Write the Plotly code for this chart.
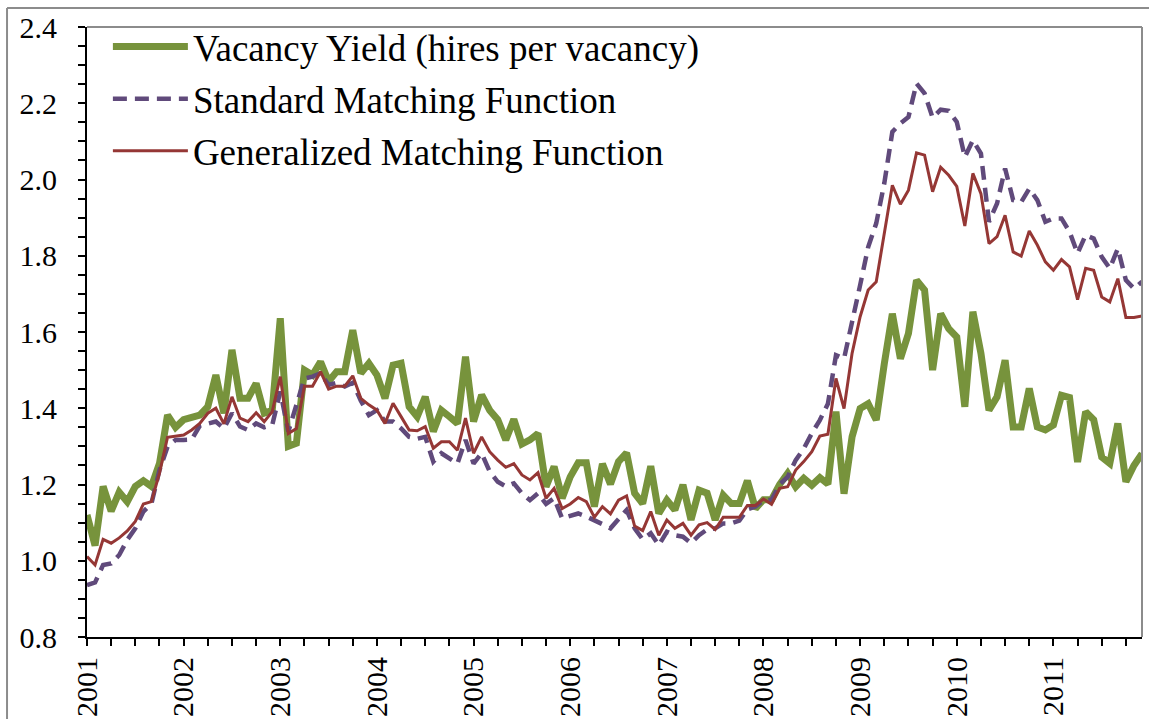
import plotly.graph_objects as go

years = ["2001", "2002", "2003", "2004", "2005", "2006", "2007", "2008", "2009", "2010", "2011"]

vacancy_yield = [
    1.12, 1.04, 1.195, 1.13, 1.18, 1.155, 1.195, 1.21, 1.195, 1.255, 1.382, 1.35,
    1.37, 1.374, 1.382, 1.404, 1.487, 1.387, 1.553, 1.426, 1.426, 1.465, 1.387, 1.395,
    1.636, 1.30, 1.308, 1.50, 1.487, 1.522, 1.47, 1.496, 1.496, 1.605, 1.492, 1.518,
    1.487, 1.426, 1.513, 1.518, 1.404, 1.378, 1.43, 1.339, 1.395, 1.378, 1.36, 1.535,
    1.365, 1.435, 1.395, 1.37, 1.317, 1.371, 1.306, 1.317, 1.334, 1.194, 1.247, 1.164,
    1.22, 1.257, 1.257, 1.142, 1.254, 1.201, 1.26, 1.283, 1.177, 1.15, 1.248, 1.124,
    1.159, 1.133, 1.199, 1.107, 1.185, 1.177, 1.107, 1.172, 1.15, 1.15, 1.21, 1.137,
    1.16, 1.16, 1.20, 1.229, 1.194, 1.216, 1.198, 1.218, 1.201, 1.391, 1.176, 1.325,
    1.399, 1.412, 1.369, 1.517, 1.648, 1.53, 1.596, 1.736, 1.71, 1.50, 1.648, 1.609,
    1.587, 1.404, 1.653, 1.544, 1.395, 1.43, 1.526, 1.351, 1.351, 1.452, 1.351, 1.343,
    1.356, 1.434, 1.428, 1.259, 1.391, 1.37, 1.272, 1.255, 1.36, 1.207, 1.25, 1.281,
]

standard_mf = [
    0.936, 0.943, 0.989, 0.993, 1.015, 1.055, 1.085, 1.129, 1.15, 1.238, 1.299, 1.317,
    1.317, 1.318, 1.354, 1.359, 1.365, 1.347, 1.387, 1.352, 1.343, 1.36, 1.35, 1.356,
    1.444, 1.339, 1.413, 1.478, 1.483, 1.492, 1.461, 1.467, 1.457, 1.467, 1.42, 1.382,
    1.395, 1.365, 1.365, 1.347, 1.325, 1.32, 1.325, 1.26, 1.282, 1.269, 1.255, 1.317,
    1.255, 1.282, 1.234, 1.207, 1.195, 1.203, 1.177, 1.159, 1.177, 1.149, 1.164, 1.111,
    1.117, 1.124, 1.116, 1.107, 1.096, 1.085, 1.111, 1.133, 1.085, 1.056, 1.072, 1.041,
    1.076, 1.067, 1.063, 1.046, 1.067, 1.082, 1.085, 1.098, 1.098, 1.105, 1.135, 1.142,
    1.159, 1.16, 1.20, 1.22, 1.264, 1.294, 1.334, 1.369, 1.412, 1.539, 1.53, 1.622,
    1.723, 1.823, 1.885, 1.99, 2.125, 2.147, 2.164, 2.252, 2.226, 2.162, 2.183, 2.18,
    2.151, 2.059, 2.103, 2.068, 1.889, 1.937, 2.029, 1.946, 1.941, 1.976, 1.946, 1.889,
    1.898, 1.898, 1.863, 1.806, 1.854, 1.845, 1.797, 1.767, 1.819, 1.736, 1.714, 1.732,
]

generalized_mf = [
    1.011, 0.989, 1.056, 1.046, 1.06, 1.078, 1.103, 1.149, 1.155, 1.23, 1.324, 1.327,
    1.33, 1.343, 1.36, 1.387, 1.40, 1.359, 1.43, 1.374, 1.365, 1.388, 1.365, 1.391,
    1.483, 1.334, 1.347, 1.458, 1.458, 1.496, 1.45, 1.458, 1.458, 1.485, 1.426, 1.409,
    1.395, 1.36, 1.413, 1.378, 1.343, 1.341, 1.352, 1.295, 1.312, 1.312, 1.29, 1.374,
    1.282, 1.325, 1.286, 1.264, 1.245, 1.255, 1.225, 1.212, 1.231, 1.164, 1.19, 1.137,
    1.149, 1.166, 1.155, 1.114, 1.142, 1.123, 1.159, 1.17, 1.091, 1.079, 1.129, 1.067,
    1.107, 1.085, 1.098, 1.067, 1.094, 1.10, 1.082, 1.114, 1.114, 1.114, 1.145, 1.145,
    1.162, 1.148, 1.19, 1.194, 1.238, 1.26, 1.286, 1.327, 1.332, 1.478, 1.399, 1.544,
    1.64, 1.71, 1.732, 1.858, 1.985, 1.935, 1.972, 2.07, 2.064, 1.968, 2.032, 2.011,
    1.982, 1.878, 2.016, 1.963, 1.832, 1.85, 1.906, 1.81, 1.799, 1.865, 1.828, 1.784,
    1.762, 1.79, 1.771, 1.685, 1.767, 1.762, 1.692, 1.679, 1.74, 1.638, 1.638, 1.642,
]

month_index = list(range(len(vacancy_yield)))
year_ticks = [12 * k for k in range(len(years))]

SERIF = "Liberation Serif, Times New Roman, serif"

fig = go.Figure()
fig.add_trace(go.Scatter(
    x=month_index, y=vacancy_yield, mode="lines",
    name="Vacancy Yield (hires per vacancy)",
    line=dict(color="#77933C", width=7), legendgroup="a",
))
fig.add_trace(go.Scatter(
    x=month_index, y=standard_mf, mode="lines",
    name="Standard Matching Function",
    line=dict(color="#604A7B", width=4.5, dash="14px,8px"), legendgroup="b",
))
fig.add_trace(go.Scatter(
    x=month_index, y=generalized_mf, mode="lines",
    name="Generalized Matching Function",
    line=dict(color="#953735", width=3), legendgroup="c",
))

fig.update_layout(
    width=1149, height=719,
    margin=dict(l=87, r=7, t=27, b=82, autoexpand=False),
    paper_bgcolor="white", plot_bgcolor="white",
    font=dict(family=SERIF, color="black", size=30),
    showlegend=True,
    legend=dict(
        x=0.0198, y=1.018, xanchor="left", yanchor="top",
        bgcolor="rgba(0,0,0,0)", borderwidth=0,
        font=dict(family=SERIF, size=37, color="black"),
        itemwidth=75, tracegroupgap=1,
    ),
    xaxis=dict(
        range=[0, len(month_index) - 1], automargin=False,
        tickvals=year_ticks, ticktext=years, tickangle=-90,
        ticks="outside", ticklen=7, tickwidth=1.5, tickcolor="black",
        showline=True, linecolor="black", linewidth=2,
        showgrid=False, zeroline=False,
        tickfont=dict(family=SERIF, size=30),
        ticklabelstandoff=-1,
        minor=dict(dtick=3, tick0=0, ticks="outside", ticklen=7, tickwidth=1.5, tickcolor="black", showgrid=False),
    ),
    yaxis=dict(
        range=[0.8, 2.4], dtick=0.2, tick0=0.8, tickformat=".1f", automargin=False,
        ticks="outside", ticklen=7, tickwidth=1.5, tickcolor="black",
        showline=True, linecolor="black", linewidth=2,
        showgrid=False, zeroline=False,
        tickfont=dict(family=SERIF, size=30),
        ticklabelstandoff=15,
        minor=dict(dtick=0.05, tick0=0.8, ticks="outside", ticklen=7, tickwidth=1.5, tickcolor="black", showgrid=False),
    ),
    shapes=[
        dict(type="line", xref="paper", yref="paper", x0=0, x1=1, y0=1, y1=1,
             line=dict(color="#8c8c8c", width=2)),
        dict(type="line", xref="paper", yref="paper", x0=1, x1=1, y0=0, y1=1,
             line=dict(color="#8c8c8c", width=2)),
        dict(type="line", xref="paper", yref="paper", x0=-0.0758, x1=1.1, y0=1.031, y1=1.031,
             line=dict(color="#8c8c8c", width=2)),
        dict(type="line", xref="paper", yref="paper", x0=-0.0758, x1=-0.0758, y0=-0.2, y1=1.031,
             line=dict(color="#8c8c8c", width=2)),
    ],
)

fig.write_html("out.html", config={"displayModeBar": False},
               post_script="document.body.style.margin='0';")
